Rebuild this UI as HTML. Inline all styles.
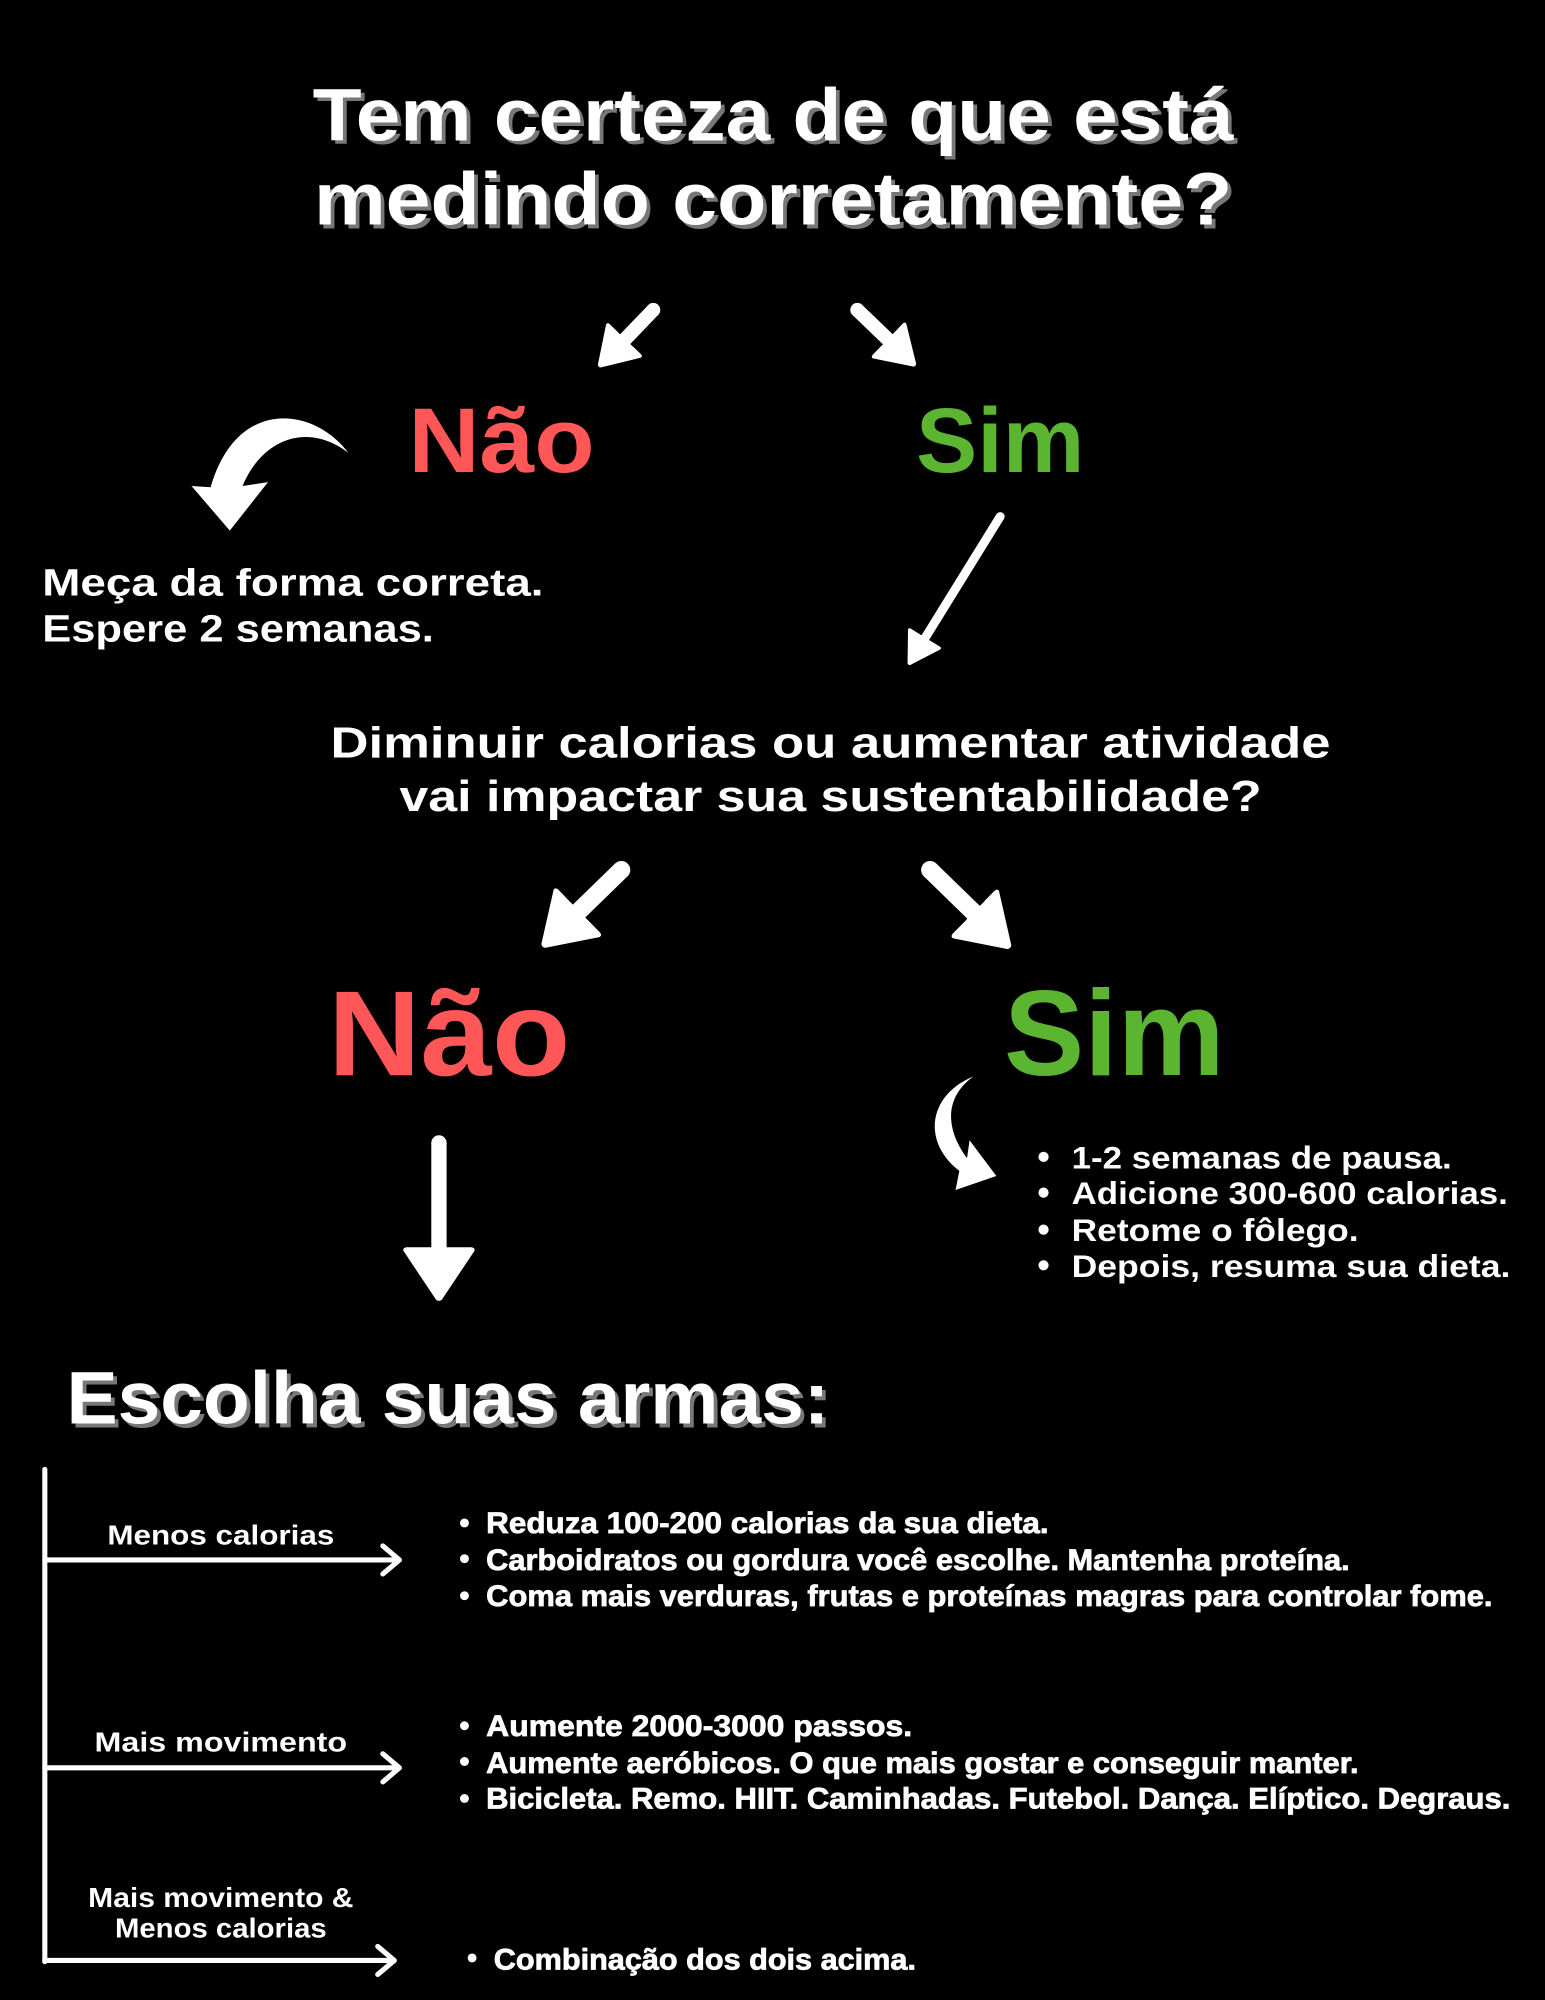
<!DOCTYPE html>
<html><head><meta charset="utf-8"><style>
html,body{margin:0;padding:0;background:#000;}
svg{display:block}
text{font-family:"Liberation Sans",sans-serif;font-weight:bold;}
</style></head><body>
<svg width="1545" height="2000" viewBox="0 0 1211 1568" xmlns="http://www.w3.org/2000/svg">
<defs>
<marker id="hA" viewBox="0 0 10 10" refX="1" refY="5" markerUnits="userSpaceOnUse" markerWidth="30" markerHeight="38" orient="auto" preserveAspectRatio="none"><path d="M0.5,0.5 L9.5,5 L0.5,9.5 z" fill="#fff" stroke="#fff" stroke-width="1" stroke-linejoin="round"/></marker>
<marker id="hB" viewBox="0 0 10 10" refX="1" refY="5" markerUnits="userSpaceOnUse" markerWidth="40" markerHeight="52" orient="auto" preserveAspectRatio="none"><path d="M0.5,0.5 L9.5,5 L0.5,9.5 z" fill="#fff" stroke="#fff" stroke-width="1" stroke-linejoin="round"/></marker>
<marker id="hD" viewBox="0 0 10 10" refX="1" refY="5" markerUnits="userSpaceOnUse" markerWidth="42" markerHeight="56" orient="auto" preserveAspectRatio="none"><path d="M0.5,0.5 L9.5,5 L0.5,9.5 z" fill="#fff" stroke="#fff" stroke-width="1" stroke-linejoin="round"/></marker>
<marker id="hC" viewBox="0 0 10 10" refX="1" refY="5" markerUnits="userSpaceOnUse" markerWidth="25" markerHeight="30" orient="auto" preserveAspectRatio="none"><path d="M0.5,0.5 L9.5,5 L0.5,9.5 z" fill="#fff" stroke="#fff" stroke-width="1" stroke-linejoin="round"/></marker>
</defs>
<g font-size="58">
<text x="248" y="113" fill="#777" textLength="722" lengthAdjust="spacingAndGlyphs">Tem certeza de que está</text>
<text x="249" y="179" fill="#777" textLength="720" lengthAdjust="spacingAndGlyphs">medindo corretamente?</text>
<text x="245" y="110" fill="#fff" textLength="722" lengthAdjust="spacingAndGlyphs">Tem certeza de que está</text>
<text x="246" y="176" fill="#fff" textLength="720" lengthAdjust="spacingAndGlyphs">medindo corretamente?</text>
</g>
<g stroke="#fff" fill="#fff">
<line x1="512" y1="243" x2="488" y2="268" stroke-width="11" marker-end="url(#hA)"/>
<circle cx="512" cy="243" r="5.5" stroke="none"/>
<line x1="672" y1="243" x2="698" y2="268" stroke-width="11" marker-end="url(#hA)"/>
<circle cx="672" cy="243" r="5.5" stroke="none"/>
<line x1="784" y1="405" x2="724" y2="502" stroke-width="7" marker-end="url(#hC)"/>
<circle cx="784" cy="405" r="3.5" stroke="none"/>
<line x1="487" y1="682" x2="451" y2="717" stroke-width="14" marker-end="url(#hB)"/>
<circle cx="487" cy="682" r="7" stroke="none"/>
<line x1="729" y1="682" x2="766" y2="718" stroke-width="14" marker-end="url(#hB)"/>
<circle cx="729" cy="682" r="7" stroke="none"/>
<line x1="344" y1="896" x2="344" y2="982" stroke-width="12" marker-end="url(#hD)"/>
<circle cx="344" cy="896" r="6" stroke="none"/>
</g>
<path d="M273,355 C245,318 185,312 165,382 L150,381 L180,416 L210,378 L190,381 C205,345 240,330 273,355 Z" fill="#fff"/>
<path d="M763,844 C728,858 722,895 752,918 L749,933 L781,922 L760,894 L758,908 C743,888 738,862 763,844 Z" fill="#fff"/>
<g stroke="#fff" fill="none" stroke-linecap="round" stroke-linejoin="round">
<line x1="35" y1="1152" x2="35" y2="1538" stroke-width="4"/>
<line x1="35" y1="1223" x2="312" y2="1223" stroke-width="4"/>
<polyline points="300,1212 313,1223 300,1234" stroke-width="4"/>
<line x1="35" y1="1386" x2="312" y2="1386" stroke-width="4"/>
<polyline points="300,1375 313,1386 300,1397" stroke-width="4"/>
<line x1="35" y1="1537" x2="308" y2="1537" stroke-width="4"/>
<polyline points="296,1526 309,1537 296,1548" stroke-width="4"/>
</g>
<text x="320" y="370" font-size="72" fill="#ff5757" textLength="146" lengthAdjust="spacingAndGlyphs">Não</text>
<text x="718" y="370" font-size="72" fill="#5cb531" textLength="132" lengthAdjust="spacingAndGlyphs">Sim</text>
<g fill="#fff" font-size="30">
<text x="33" y="467" textLength="393" lengthAdjust="spacingAndGlyphs">Meça da forma correta.</text>
<text x="33" y="503" textLength="307" lengthAdjust="spacingAndGlyphs">Espere 2 semanas.</text>
</g>
<g fill="#fff" font-size="34">
<text x="259" y="594" textLength="784" lengthAdjust="spacingAndGlyphs">Diminuir calorias ou aumentar atividade</text>
<text x="313" y="636" textLength="676" lengthAdjust="spacingAndGlyphs">vai impactar sua sustentabilidade?</text>
</g>
<text x="257" y="843" font-size="95" fill="#ff5757" textLength="190" lengthAdjust="spacingAndGlyphs">Não</text>
<text x="787" y="843" font-size="95" fill="#5cb531" textLength="173" lengthAdjust="spacingAndGlyphs">Sim</text>
<g fill="#fff" font-size="25">
<circle cx="818" cy="907" r="4"/><circle cx="818" cy="935" r="4"/><circle cx="818" cy="964" r="4"/><circle cx="818" cy="992" r="4"/>
<text x="840" y="916" textLength="298" lengthAdjust="spacingAndGlyphs">1-2 semanas de pausa.</text>
<text x="840" y="944" textLength="342" lengthAdjust="spacingAndGlyphs">Adicione 300-600 calorias.</text>
<text x="840" y="973" textLength="225" lengthAdjust="spacingAndGlyphs">Retome o fôlego.</text>
<text x="840" y="1001" textLength="344" lengthAdjust="spacingAndGlyphs">Depois, resuma sua dieta.</text>
</g>
<text x="55" y="1119" font-size="58" fill="#777" textLength="598" lengthAdjust="spacingAndGlyphs">Escolha suas armas:</text>
<text x="52" y="1116" font-size="58" fill="#fff" textLength="598" lengthAdjust="spacingAndGlyphs">Escolha suas armas:</text>
<g fill="#fff" font-size="22" text-anchor="middle">
<text x="173" y="1211" textLength="178" lengthAdjust="spacingAndGlyphs">Menos calorias</text>
<text x="173" y="1373" textLength="198" lengthAdjust="spacingAndGlyphs">Mais movimento</text>
<text x="173" y="1495" textLength="208" lengthAdjust="spacingAndGlyphs">Mais movimento &amp;</text>
<text x="173" y="1519" textLength="166" lengthAdjust="spacingAndGlyphs">Menos calorias</text>
</g>
<g fill="#fff" font-size="23" style="font-weight:normal">
<circle cx="364" cy="1194" r="3.5"/><circle cx="364" cy="1222" r="3.5"/><circle cx="364" cy="1251" r="3.5"/>
<circle cx="364" cy="1353" r="3.5"/><circle cx="364" cy="1381" r="3.5"/><circle cx="364" cy="1410" r="3.5"/>
<circle cx="370" cy="1535" r="3.5"/>
<text x="381" y="1202" textLength="441" lengthAdjust="spacingAndGlyphs" stroke="#fff" stroke-width="0.6">Reduza 100-200 calorias da sua dieta.</text>
<text x="381" y="1231" textLength="677" lengthAdjust="spacingAndGlyphs" stroke="#fff" stroke-width="0.6">Carboidratos ou gordura você escolhe. Mantenha proteína.</text>
<text x="381" y="1259" textLength="789" lengthAdjust="spacingAndGlyphs" stroke="#fff" stroke-width="0.6">Coma mais verduras, frutas e proteínas magras para controlar fome.</text>
<text x="381" y="1361" textLength="334" lengthAdjust="spacingAndGlyphs" stroke="#fff" stroke-width="0.6">Aumente 2000-3000 passos.</text>
<text x="381" y="1390" textLength="684" lengthAdjust="spacingAndGlyphs" stroke="#fff" stroke-width="0.6">Aumente aeróbicos. O que mais gostar e conseguir manter.</text>
<text x="381" y="1418" textLength="803" lengthAdjust="spacingAndGlyphs" stroke="#fff" stroke-width="0.6">Bicicleta. Remo. HIIT. Caminhadas. Futebol. Dança. Elíptico. Degraus.</text>
<text x="387" y="1544" textLength="331" lengthAdjust="spacingAndGlyphs" stroke="#fff" stroke-width="0.6">Combinação dos dois acima.</text>
</g>
</svg>
</body></html>
